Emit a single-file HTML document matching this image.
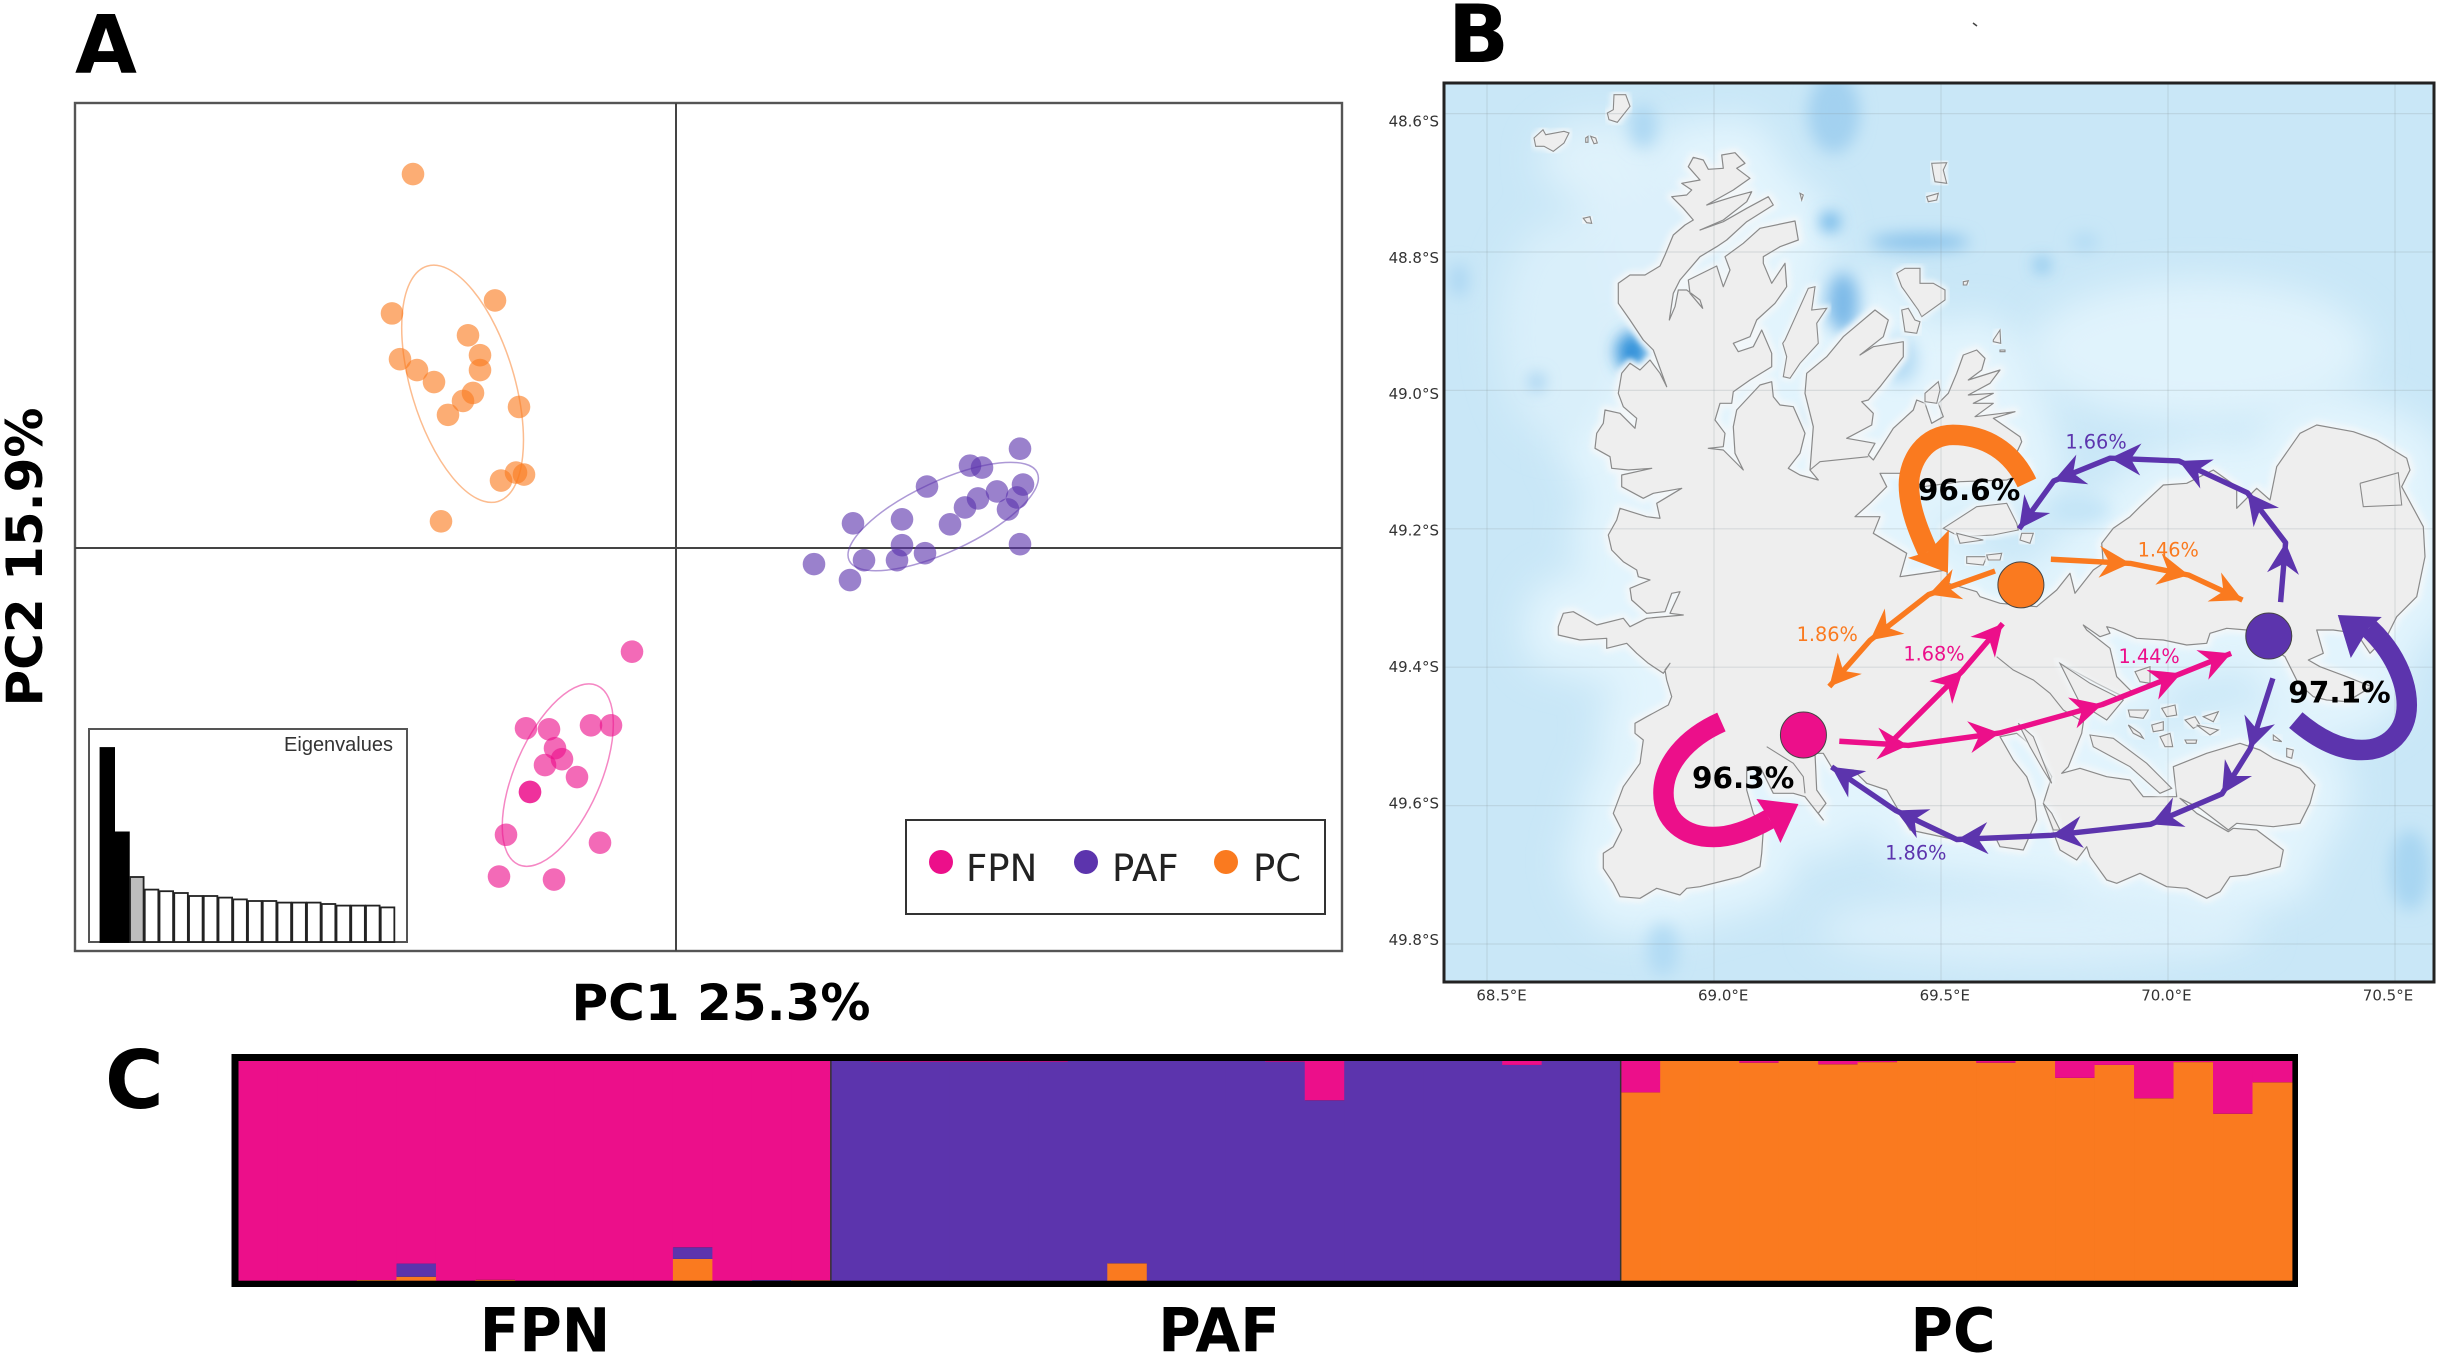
<!DOCTYPE html>
<html lang="en">
<head>
<meta charset="utf-8">
<title>Population structure figure</title>
<style>
html,body{margin:0;padding:0;background:#fff;}
svg{display:block;}
text{font-family:"DejaVu Sans","Liberation Sans",sans-serif;}
</style>
</head>
<body>
<svg id="fig" xmlns="http://www.w3.org/2000/svg" width="2439" height="1356" viewBox="0 0 2439 1356">
<defs>
<filter id="blur-broad" x="-30%" y="-30%" width="160%" height="160%"><feGaussianBlur stdDeviation="18"/></filter>
<filter id="blur-spot" x="-100%" y="-100%" width="300%" height="300%"><feGaussianBlur stdDeviation="8"/></filter>
<filter id="blur-halo" x="-10%" y="-10%" width="120%" height="120%"><feGaussianBlur stdDeviation="3"/></filter>
<clipPath id="map-clip"><rect x="1444" y="83" width="990" height="899"/></clipPath>
</defs>
<rect width="2439" height="1356" fill="#fff"/>

<text x="75" y="72.7" font-size="80" font-weight="700" fill="#000">A</text>
<text x="1448" y="62" font-size="80" font-weight="700" fill="#000">B</text>
<text x="105" y="1108" font-size="80" font-weight="700" fill="#000">C</text>
<path d="M1973,23 l4,3" stroke="#444" stroke-width="1.5"/>

<g id="panel-a">
<rect x="75" y="103" width="1267" height="848" fill="#fff" stroke="#555" stroke-width="2.4"/>
<line x1="676" y1="103" x2="676" y2="951" stroke="#444" stroke-width="2"/>
<line x1="75" y1="548" x2="1342" y2="548" stroke="#444" stroke-width="2"/>
<g id="pca-marks"></g>
<rect x="89" y="729" width="318" height="213" fill="#fff" stroke="#555" stroke-width="2"/>
<g id="eigen-bars"></g>
<text x="393" y="751" font-size="20" text-anchor="end" fill="#333" style="font-family:'Liberation Sans',sans-serif">Eigenvalues</text>
<rect x="906" y="820" width="419" height="94" fill="#fff" stroke="#333" stroke-width="2"/>
<circle cx="941" cy="862" r="12" fill="#ec0f8a"/>
<text x="966" y="881" font-size="37" fill="#222">FPN</text>
<circle cx="1086" cy="862" r="12" fill="#5c34ad"/>
<text x="1112" y="881" font-size="37" fill="#222">PAF</text>
<circle cx="1226" cy="862" r="12" fill="#fa7a1f"/>
<text x="1253" y="881" font-size="37" fill="#222">PC</text>
<text x="721" y="1020" font-size="50" font-weight="700" text-anchor="middle" fill="#000">PC1 25.3%</text>
<text transform="translate(42,557) rotate(-90)" font-size="50" font-weight="700" text-anchor="middle" fill="#000">PC2 15.9%</text>
</g>

<g id="panel-b">
<g clip-path="url(#map-clip)">
<rect x="1444" y="83" width="990" height="899" fill="#c9e7f7"/>
<path id="coast-broad" fill="#e2f4fd" stroke="#e2f4fd" stroke-width="70" stroke-linejoin="round" filter="url(#blur-broad)"/>
<g filter="url(#blur-broad)">
<ellipse cx="2200" cy="350" rx="170" ry="70" fill="#e0f3fc"/>
<ellipse cx="1640" cy="250" rx="70" ry="90" fill="#dcf0fb"/>
<ellipse cx="1560" cy="330" rx="60" ry="110" fill="#d9effa"/>
<ellipse cx="1600" cy="160" rx="60" ry="40" fill="#dff2fb"/>
<ellipse cx="2040" cy="930" rx="220" ry="35" fill="#dbf0fb"/>
</g>
<g filter="url(#blur-spot)">
<ellipse cx="1834" cy="113" rx="26" ry="40" fill="#a3d1f0"/>
<ellipse cx="1830" cy="222" rx="9" ry="9" fill="#4fa5e2"/>
<ellipse cx="1920" cy="242" rx="50" ry="8" fill="#84c0ea"/>
<ellipse cx="1843" cy="303" rx="16" ry="30" fill="#7dbae8"/>
<ellipse cx="1632" cy="352" rx="16" ry="20" fill="#2f90d9"/>
<ellipse cx="2042" cy="265" rx="6" ry="6" fill="#4fa5e2"/>
<ellipse cx="1537" cy="382" rx="7" ry="8" fill="#8ec5ec"/>
<ellipse cx="1643" cy="126" rx="14" ry="22" fill="#add8f3"/>
<ellipse cx="1459" cy="280" rx="9" ry="17" fill="#aad6f3"/>
<ellipse cx="2085" cy="242" rx="14" ry="9" fill="#b2dbf4"/>
<ellipse cx="2080" cy="510" rx="30" ry="14" fill="#c4e5f7"/>
<ellipse cx="2410" cy="870" rx="20" ry="40" fill="#a8d6f2"/>
<ellipse cx="1663" cy="950" rx="16" ry="26" fill="#b2dbf4"/>
<ellipse cx="1900" cy="360" rx="18" ry="24" fill="#b5dcf4"/>
<ellipse cx="1800" cy="425" rx="7" ry="14" fill="#a9d6f2"/>
</g>
<path id="coast-halo" fill="#f3f7f9" stroke="#f3f7f9" stroke-width="9" stroke-linejoin="round" filter="url(#blur-halo)"/>
<path id="coast-land" fill="#eeeeee" stroke="#8a8a8a" stroke-width="1.2" stroke-linejoin="round"/>
<g id="map-islands"></g>
<g id="map-grid"></g>
<g id="map-flows"></g>
</g>
<rect x="1444" y="83" width="990" height="899" fill="none" stroke="#222" stroke-width="3"/>
<g id="map-ticks"></g>
</g>

<g id="panel-c">
<rect x="231.5" y="1054" width="2066.5" height="233" fill="#000"/>
<g id="admix-bars"></g>
<g id="admix-labels"></g>
</g>
</svg>

<script>
var NS = 'http://www.w3.org/2000/svg';

/* ---------- chart data ---------- */
var fpnPc1 = [-0.44,-1.50,-1.27,-0.85,-0.65,-1.21,-1.14,-1.31,-0.99,-1.46,-1.46,-1.70,-0.76,-1.77,-1.22];
var fpnPc2 = [-1.04,-1.81,-1.82,-1.78,-1.78,-2.01,-2.12,-2.18,-2.30,-2.45,-2.45,-2.88,-2.96,-3.30,-3.33];
var pafPc1 = [3.44,2.94,3.06,3.47,2.51,3.21,3.41,3.02,2.89,3.32,2.26,1.77,2.74,3.44,2.26,2.49,1.88,2.21,1.38,1.74];
var pafPc2 = [1.00,0.83,0.81,0.64,0.62,0.57,0.51,0.50,0.41,0.39,0.29,0.25,0.24,0.04,0.03,-0.05,-0.12,-0.12,-0.16,-0.32];
var pcPc1 = [-2.63,-1.81,-2.84,-2.08,-1.96,-1.96,-2.76,-2.59,-2.42,-2.03,-2.13,-2.28,-1.57,-1.60,-1.52,-1.75,-2.35];
var pcPc2 = [3.76,2.49,2.36,2.14,1.94,1.79,1.90,1.79,1.67,1.56,1.48,1.34,1.42,0.76,0.74,0.68,0.27];
var eigenvalues = [97,54.8,32.5,26.2,25.4,24.5,23,23,22.2,21.3,20.5,20.5,19.7,19.7,19.7,19,18.2,18.2,18.2,17.3];

var admixOrange = [0,0,0,0.003,0.018,0,0.004,0,0,0,0,0.099,0,0,0.002,
  0,0,0,0,0,0,0,0.079,0,0,0,0,0,0,0,0,0,0,0,0,
  0.857,1,1,0.992,1,0.985,0.995,1,1,0.992,1,0.923,0.982,0.83,0.995,0.76,0.903];
var admixPurple = [0,0,0,0,0.06,0,0,0,0,0,0,0.053,0,0.003,0,
  1,0.997,0.997,0.997,0.997,0.997,1,0.921,1,1,1,0.997,0.821,1,1,1,1,0.982,1,1,
  0,0,0,0,0,0,0,0,0,0,0,0,0,0,0,0,0];
var admixPink = [1,1,1,0.997,0.922,1,0.996,1,1,1,1,0.848,1,0.997,0.998,
  0,0.003,0.003,0.003,0.003,0.003,0,0,0,0,0,0.003,0.179,0,0,0,0,0.018,0,0,
  0.143,0,0,0.008,0,0.015,0.005,0,0,0.008,0,0.077,0.018,0.17,0.005,0.24,0.097];
var groupNames = ['FPN','PAF','PC'];
var groupSizes = [15,20,17];

var latTicks = [48.6,48.8,49.0,49.2,49.4,49.6,49.8];
var lonTicks = [68.5,69.0,69.5,70.0,70.5];

var orangeNode = [69.676,49.281];
var purpleNode = [70.222,49.355];
var pinkNode = [69.197,49.498];

var flowOrangeToPurpleLon = [69.742,69.917,70.046,70.164];
var flowOrangeToPurpleLat = [49.244,49.250,49.267,49.303];
var flowOrangeToPinkLon = [69.619,69.473,69.344,69.254];
var flowOrangeToPinkLat = [49.261,49.295,49.361,49.428];
var flowPinkToPurpleLon = [69.276,69.428,69.630,69.855,70.029,70.139];
var flowPinkToPurpleLat = [49.507,49.513,49.495,49.454,49.409,49.380];
var flowPinkToOrangeLon = [69.389,69.548,69.636];
var flowPinkToOrangeLat = [49.509,49.405,49.337];
var flowPurpleToOrangeLon = [70.248,70.259,70.175,70.024,69.872,69.748,69.672];
var flowPurpleToOrangeLat = [49.306,49.220,49.148,49.102,49.098,49.131,49.200];
var flowPurpleToPinkLon = [70.231,70.181,70.119,69.962,69.743,69.535,69.400,69.259];
var flowPurpleToPinkLat = [49.416,49.518,49.583,49.627,49.643,49.649,49.607,49.544];

var selfRates = ['96.3%','96.6%','97.1%'];
var migrationRates = ['1.66%','1.46%','1.86%','1.68%','1.44%','1.86%'];

/* ---------- colours ---------- */
var PINK = '#ec0f8a', PURPLE = '#5c34ad', ORANGE = '#fa7a1f';

function mk(tag, attrs, parent, txt) {
  var el = document.createElementNS(NS, tag);
  for (var k in attrs) el.setAttribute(k, attrs[k]);
  if (txt !== undefined) el.textContent = txt;
  if (parent) parent.appendChild(el);
  return el;
}

/* ---------- panel A ---------- */
function pcaX(v) { return 676 + v * 100; }
function pcaY(v) { return 548.2 - v * 99.5; }
var pcaLayer = document.getElementById('pca-marks');

function drawGroup(name, xs, ys, color) {
  var n = xs.length, mx = 0, my = 0, sxx = 0, syy = 0, sxy = 0, i;
  for (i = 0; i < n; i++) { mx += pcaX(xs[i]) / n; my += pcaY(ys[i]) / n; }
  for (i = 0; i < n; i++) {
    var dx = pcaX(xs[i]) - mx, dy = pcaY(ys[i]) - my;
    sxx += dx * dx / n; syy += dy * dy / n; sxy += dx * dy / n;
  }
  var mean = (sxx + syy) / 2, diff = (sxx - syy) / 2;
  var r = Math.sqrt(diff * diff + sxy * sxy);
  var angle = 0.5 * Math.atan2(2 * sxy, sxx - syy) * 180 / Math.PI;
  var ell = mk('ellipse', {
    cx: mx, cy: my,
    rx: 1.5 * Math.sqrt(mean + r),
    ry: 1.5 * Math.sqrt(Math.max(mean - r, 0)),
    transform: 'rotate(' + angle + ' ' + mx + ' ' + my + ')',
    fill: 'none', stroke: color, 'stroke-width': 1.5, opacity: 0.5
  }, pcaLayer);
  
  
  for (i = 0; i < n; i++) {
    var pt = mk('circle', {
      cx: pcaX(xs[i]), cy: pcaY(ys[i]), r: 11.3, fill: color, 'fill-opacity': 0.62
    }, pcaLayer);
    
    
  }
}
drawGroup('pc', pcPc1, pcPc2, ORANGE);
drawGroup('paf', pafPc1, pafPc2, PURPLE);
drawGroup('fpn', fpnPc1, fpnPc2, PINK);

function eigenH(v) { return v * 2; }
var eigenLayer = document.getElementById('eigen-bars');
eigenvalues.forEach(function (v, i) {
  var fill = i < 2 ? '#000' : (i === 2 ? '#bdbdbd' : '#fff');
  var bar = mk('rect', {
    x: 100.5 + i * 14.75, y: 942 - eigenH(v), width: 13.6, height: eigenH(v),
    fill: fill, stroke: i < 2 ? '#000' : '#222', 'stroke-width': 1.8
  }, eigenLayer);
  
  
});

/* ---------- coast trace (map backdrop) ---------- */
var coastSegments = [
 [1560,140,[175,430,210,405,255,405,300,378,315,345,340,285,375,255,400,240,370,205,335,170,380,165,395,150,365,130,420,120,385,80,400,52,430,60,445,88,490,85,485,45,525,38,555,70,530,85,570,115,520,150,440,195,520,170,575,155,560,185,490,240,420,270,490,245,560,205,625,170,640,195,560,245,500,300,470,320,420,350,360,420,340,460,328,540,345,500,355,450,380,450,420,480,428,505,390,460,385,420,470,378,490,440,510,390,495,350,550,310,600,265,705,243,715,300,660,320,610,350,610,370,635,430,675,370,680,440,645,490,590,540,570,590,520,610,535,635,580,620,605,570,635,640,635,680,570,720,520,755,515,790,480,790,465,840,495,880,490,920,445,925,490,930,550,990,525,940,520,860,530,810,600,735,635,725,640,770,660,795,700,800,735,880,720,940,685,985,720,1005,775,1020,750,990,760,860,735,760,740,700,800,650,850,590,880,565,945,510,985,540,970,590,900,645,940,620,1030,605,1030,650,960,740,925,780,905,785,940,820,935,855,860,895,945,910,925,945,940,960,1000,865,1060,810,1070,780,1095,790,1115,850,1150,830,1135,790,1165,760,1190,700,1210,645,1250,630,1275,655,1265,690,1225,720,1320,690,1290,730,1225,765,1300,760,1240,790,1300,790,1245,830,1365,815,1300,835,1380,890,1385,905,1360,960,1400,970,1410,995,1340,1020,1200,1025,1090,1040,1020,1000,960,1000,980,1040,930,1090,885,1130,960,1130]],
 [1540,520,[1000,40,1100,100,1080,170,1220,150,1225,190,1310,215]],
 [1980,400,[0,590,60,610,170,620,230,570,270,520,285,580,340,510,370,490,365,430,400,385,450,350,480,320,550,255,620,250,700,210,770,260,770,325,830,265,870,300,890,200,960,100,1010,75,1120,95,1190,120,1280,175,1290,210,1265,260,1330,380,1335,470,1310,590,1250,650,1220,710,1170,760,1130,700,1060,690,1010,690,1030,760,985,780,1020,800,1100,830,1175,860,1100,905,1040,900,1000,890,955,850,915,770,800,690,740,685,690,700,680,730,620,735,550,720,470,715,400,685,380,680,390,700,360,710,310,675,320,690,390,745,410,830,460,880,430,890,350,850,240,790,320,900,305,1000,265,1100,245,1120,300,1105,380,1130,450,1140,490,1190,590,1190,580,1100,680,1060,780,1030,840,1050,880,1075,960,1105,1005,1155,990,1210,960,1270,880,1280,770,1270,745,1290,660,1225,600,1195,650,1240,745,1295,760,1285,830,1290,910,1350,900,1400,800,1425,750,1430,720,1475,680,1495,620,1465,560,1460,480,1420,410,1450,380,1440,330,1370,320,1340,290,1380,240,1350,225,1310,190,1210,215,1130,170,1050,110,1000,60,1010,100,1080,140,1130,165,1200,170,1260,130,1350,60,1340]],
 [1540,520,[1370,960,1250,960,1110,930,1075,870,1040,810,980,790,940,750,880,750,850,700,825,700,830,810,858,850,835,880,850,900,795,830,760,820,700,820,660,740,620,740,620,810,640,880,670,930,665,1000,660,1040,600,1070,560,1080,480,1100,440,1105,420,1125,350,1105,300,1135,240,1130,220,1090,190,1045,190,1000,220,980,245,930,220,880,250,800,300,730,310,660,285,640,285,610,320,590,385,555,395,530,380,480,375,450,390,430,370,460,325,430,290,400,260,370,200,385,200,355,120,360,55,345,55,320,70,280,100,275,170,315,250,295,270,320,320,295,430,285,390,280,420,215,395,220,375,275,320,280,275,240,270,205,330,180,295,170,290,150,250,125,215,90,205,45,230,0]],
 [1560,140,[180,1105,260,1130,300,1135,290,1090,365,1045,280,1060,250,1075,185,1040,185,1005,275,985,205,990,155,985,150,950,105,925,110,880,130,850,135,810,180,820,225,865,230,835,190,800,175,760,185,700,210,670,240,690,270,660,300,700,320,740,280,630,250,600,210,540,175,490]]
];
var islandShapes = [
 [1444,83,[270,165,297,140,305,155,360,145,375,150,360,180,328,205,300,190,275,190]],
 [1444,83,[510,35,545,35,558,70,520,118,495,110,490,90,508,80]],
 [1444,83,[425,165,432,160,432,178,425,178]],
 [1444,83,[440,160,455,165,460,180,450,182]],
 [1444,83,[418,405,438,405,440,420,430,420]],
 [1560,140,[1115,70,1160,68,1150,90,1160,130,1125,125,1120,100]],
 [1560,140,[1100,170,1135,160,1130,180,1105,185]],
 [1560,140,[70,235,90,230,95,250,80,248]],
 [1560,140,[1010,400,1035,385,1080,385,1080,430,1120,430,1155,450,1155,480,1085,530,1075,510,1025,440]],
 [1560,140,[1025,510,1045,505,1065,540,1080,545,1070,580,1035,575]],
 [1560,140,[1300,600,1320,570,1322,610,1300,605]],
 [1560,140,[1210,425,1225,422,1220,435,1210,435]],
 [1560,140,[1320,630,1335,630,1335,635,1320,635]],
 [1560,140,[720,160,730,165,725,180]],
 [1560,140,[675,600,745,445,765,440,755,510,800,505,770,550,775,610,720,670,690,715,670,710,680,650,668,610]],
 [1560,140,[1150,1165,1250,1100,1340,1090,1370,1150,1375,1170,1300,1185,1200,1190]],
 [1560,140,[1095,760,1135,725,1140,750,1130,790,1095,785]],
 [1540,520,[1250,40,1330,60,1260,70]],
 [1540,520,[1280,110,1340,110,1330,135,1280,130]],
 [1540,520,[1340,105,1385,100,1380,120,1345,120]],
 [1540,520,[1445,40,1480,40,1470,70,1440,60]],
 [1980,400,[330,1005,400,1015,500,1090,575,1165,540,1180,450,1100,340,1040]],
 [1980,400,[190,1210,215,1240,240,1290,220,1290]],
 [1980,400,[445,930,505,930,490,955,450,950]],
 [1980,400,[515,975,550,965,550,990,520,995]],
 [1980,400,[540,1010,570,1000,578,1040,555,1040]],
 [1980,400,[545,925,585,915,590,945,560,950]],
 [1980,400,[615,960,645,950,660,975,640,985]],
 [1980,400,[650,975,715,990,690,1005]],
 [1980,400,[670,950,715,935,700,965]],
 [1980,400,[615,1020,650,1020,648,1030,620,1030]],
 [1980,400,[445,975,480,1000,490,1015,460,1000]],
 [1980,400,[465,815,510,800,510,850,480,845]],
 [1980,400,[880,1005,905,1025,880,1020]],
 [1980,400,[920,1045,940,1050,935,1075,920,1070]],
 [1980,400,[240,790,330,850,430,900,380,960,300,910]],
 [1980,400,[115,970,160,1010,215,1150,190,1110,150,1040]]
];
var coastLines = [
 [1980,400,[50,770,100,810,160,840,210,880,250,930,300,960]],
 [1980,400,[1140,250,1255,218,1265,315,1150,320,1140,250]],
 [1540,520,[680,680,760,730,790,770,795,820]],
 [1560,140,[750,990,780,965,925,950]]
];
function pts(seg) {
  var out = [], a = seg[2];
  for (var i = 0; i < a.length; i += 2) out.push((seg[0] + a[i] / 3).toFixed(1) + ',' + (seg[1] + a[i + 1] / 3).toFixed(1));
  return out;
}
var coastD = 'M' + coastSegments.map(function (s) { return pts(s).join(' '); }).join(' ') + 'Z';
document.getElementById('coast-broad').setAttribute('d', coastD);
document.getElementById('coast-halo').setAttribute('d', coastD);
document.getElementById('coast-land').setAttribute('d', coastD);
var islandLayer = document.getElementById('map-islands');
islandShapes.forEach(function (s) {
  var p = pts(s).join(' ');
  var h = mk('polygon', { points: p, fill: '#f3f7f9', stroke: '#f3f7f9', 'stroke-width': 6, filter: 'url(#blur-halo)' }, islandLayer);
  
  
  var poly = mk('polygon', { points: p, fill: '#eeeeee', stroke: '#8a8a8a', 'stroke-width': 1.1 }, islandLayer);
  
  
});
coastLines.forEach(function (s) {
  var l = mk('polyline', { points: pts(s).join(' '), fill: 'none', stroke: '#8a8a8a', 'stroke-width': 1.1 }, islandLayer);
  
  
});

/* ---------- panel B ---------- */
function gridLonX(lon) { return 1714 + (lon - 69) * 454; }
function gridLatY(lat) { return 252 + (lat - 48.8) * 692; }
function labelLonX(lon) { return 1501.6 + (lon - 68.5) * 443.2; }
function labelLatY(lat) { return 121.4 + (lat - 48.6) * 682; }

var gridLayer = document.getElementById('map-grid');
var tickLayer = document.getElementById('map-ticks');
latTicks.forEach(function (lat) {
  var ln = mk('line', { x1: 1444, x2: 2434, y1: gridLatY(lat), y2: gridLatY(lat), stroke: '#8a979c', 'stroke-opacity': 0.22, 'stroke-width': 1.2 }, gridLayer);
  
  
  var t = mk('text', { x: 1439, y: labelLatY(lat) + 5, 'font-size': 15, 'text-anchor': 'end', fill: '#333' }, tickLayer, lat.toFixed(1) + '\u00B0S');
  
  
});
lonTicks.forEach(function (lon) {
  var g = mk('line', { y1: 83, y2: 982, x1: gridLonX(lon), x2: gridLonX(lon), stroke: '#8a979c', 'stroke-opacity': 0.22, 'stroke-width': 1.2 }, gridLayer);
  
  
  var t = mk('text', { x: labelLonX(lon), y: 1000.5, 'font-size': 15, 'text-anchor': 'middle', fill: '#333' }, tickLayer, lon.toFixed(1) + '\u00B0E');
  
  
});

var flowLayer = document.getElementById('map-flows');
function drawFlow(name, lons, lats, color) {
  var p = lons.map(function (lon, i) { return [gridLonX(lon), gridLatY(lats[i])]; });
  var line = mk('polyline', {
    points: p.map(function (q) { return q[0] + ',' + q[1]; }).join(' '),
    fill: 'none', stroke: color, 'stroke-width': 5.4, 'stroke-linejoin': 'round'
  }, flowLayer);
  
  
  for (var i = 1; i < p.length; i++) {
    var a = Math.atan2(p[i][1] - p[i - 1][1], p[i][0] - p[i - 1][0]);
    var c = Math.cos(a), s = Math.sin(a), L = 31, W = 16, N = 21;
    var x = p[i][0], y = p[i][1];
    var head = mk('polygon', {
      points: [
        [x, y],
        [x - L * c - W * s, y - L * s + W * c],
        [x - N * c, y - N * s],
        [x - L * c + W * s, y - L * s - W * c]
      ].map(function (q) { return q[0] + ',' + q[1]; }).join(' '),
      fill: color
    }, flowLayer);
    
    
  }
}
drawFlow('flow-orange-to-purple', flowOrangeToPurpleLon, flowOrangeToPurpleLat, ORANGE);
drawFlow('flow-orange-to-pink', flowOrangeToPinkLon, flowOrangeToPinkLat, ORANGE);
drawFlow('flow-pink-to-purple', flowPinkToPurpleLon, flowPinkToPurpleLat, PINK);
drawFlow('flow-pink-to-orange', flowPinkToOrangeLon, flowPinkToOrangeLat, PINK);
drawFlow('flow-purple-to-orange', flowPurpleToOrangeLon, flowPurpleToOrangeLat, PURPLE);
drawFlow('flow-purple-to-pink', flowPurpleToPinkLon, flowPurpleToPinkLat, PURPLE);

function drawLoop(name, node, color, d, head, label, lx, ly) {
  var nx = gridLonX(node[0]), ny = gridLatY(node[1]);
  var g = mk('g', { transform: 'translate(' + nx + ',' + ny + ')' }, flowLayer);
  
  
  mk('path', { d: d, fill: 'none', stroke: color, 'stroke-width': 20.5 }, g);
  mk('polygon', { points: head, fill: color }, g);
  var c = mk('circle', { cx: 0, cy: 0, r: 23, fill: color, stroke: '#444', 'stroke-width': 1 }, g);
  
  
  var t = mk('text', { x: lx, y: ly, 'font-size': 29.5, 'font-weight': 700, fill: '#000' }, g, label);
  
  
}
drawLoop('orange', orangeNode, ORANGE,
  'M6,-102 C-9,-134 -36,-150 -68,-150 C-95,-150 -112,-125 -112,-100 C-112,-78 -103,-55 -93,-33',
  '-73,-12 -113,-27 -93,-33 -72,-55', selfRates[1], -103, -85);
drawLoop('pink', pinkNode, PINK,
  'M-82,-13 C-118,3 -140,30 -140,58 C-140,85 -120,102 -90,102 C-70,102 -50,93 -34,84',
  '-5,69 -47,64 -34,84 -23,108', selfRates[0], -111.5, 53);
drawLoop('purple', purpleNode, PURPLE,
  'M27,84 C48,102 70,114 93,114 C120,114 138,95 138,69 C138,45 125,15 100,-8',
  '69,-21 113,-19 100,-8 82,22', selfRates[2], 19.5, 66.7);

var rateColors = [PURPLE, ORANGE, ORANGE, PINK, PINK, PURPLE];
var rateLon = [69.774,69.933,69.182,69.417,69.891,69.377];
var rateLat = [49.084,49.240,49.362,49.390,49.394,49.678];
migrationRates.forEach(function (rate, i) {
  var t = mk('text', {
    x: gridLonX(rateLon[i]), y: gridLatY(rateLat[i]), 'font-size': 19.3, fill: rateColors[i]
  }, flowLayer, rate);
  
  
});

/* ---------- panel C ---------- */
function admixX(i) { return 238.5 + i * (2053.5 / admixPink.length); }
function admixY(v) { return 1280.7 - v * 219.7; }
var admixLayer = document.getElementById('admix-bars');
admixPink.forEach(function (p, i) {
  var base = 0;
  [[admixOrange[i], ORANGE, 'orange'], [admixPurple[i], PURPLE, 'purple'], [p, PINK, 'pink']].forEach(function (seg) {
    if (seg[0] <= 0) return;
    var r = mk('rect', {
      x: admixX(i), y: admixY(base + seg[0]),
      width: admixX(i + 1) - admixX(i) + 0.4,
      height: seg[0] * 219.7, fill: seg[1]
    }, admixLayer);
    
    
    base += seg[0];
  });
});
var cum = 0;
var labelLayer = document.getElementById('admix-labels');
var labelCenters = [545, 1219, 1953];
groupSizes.forEach(function (size, g) {
  if (g > 0) {
    var sep = mk('line', { x1: admixX(cum), x2: admixX(cum), y1: 1061, y2: 1281, stroke: '#333', 'stroke-width': 1.5 }, labelLayer);
    
    
  }
  cum += size;
  var t = mk('text', {
    transform: 'translate(' + labelCenters[g] + ',1351.7) scale(0.95,1)',
    'font-size': 61, 'font-weight': 700, 'text-anchor': 'middle', fill: '#000'
  }, labelLayer, groupNames[g]);
  
  
});
</script>
</body>
</html>
